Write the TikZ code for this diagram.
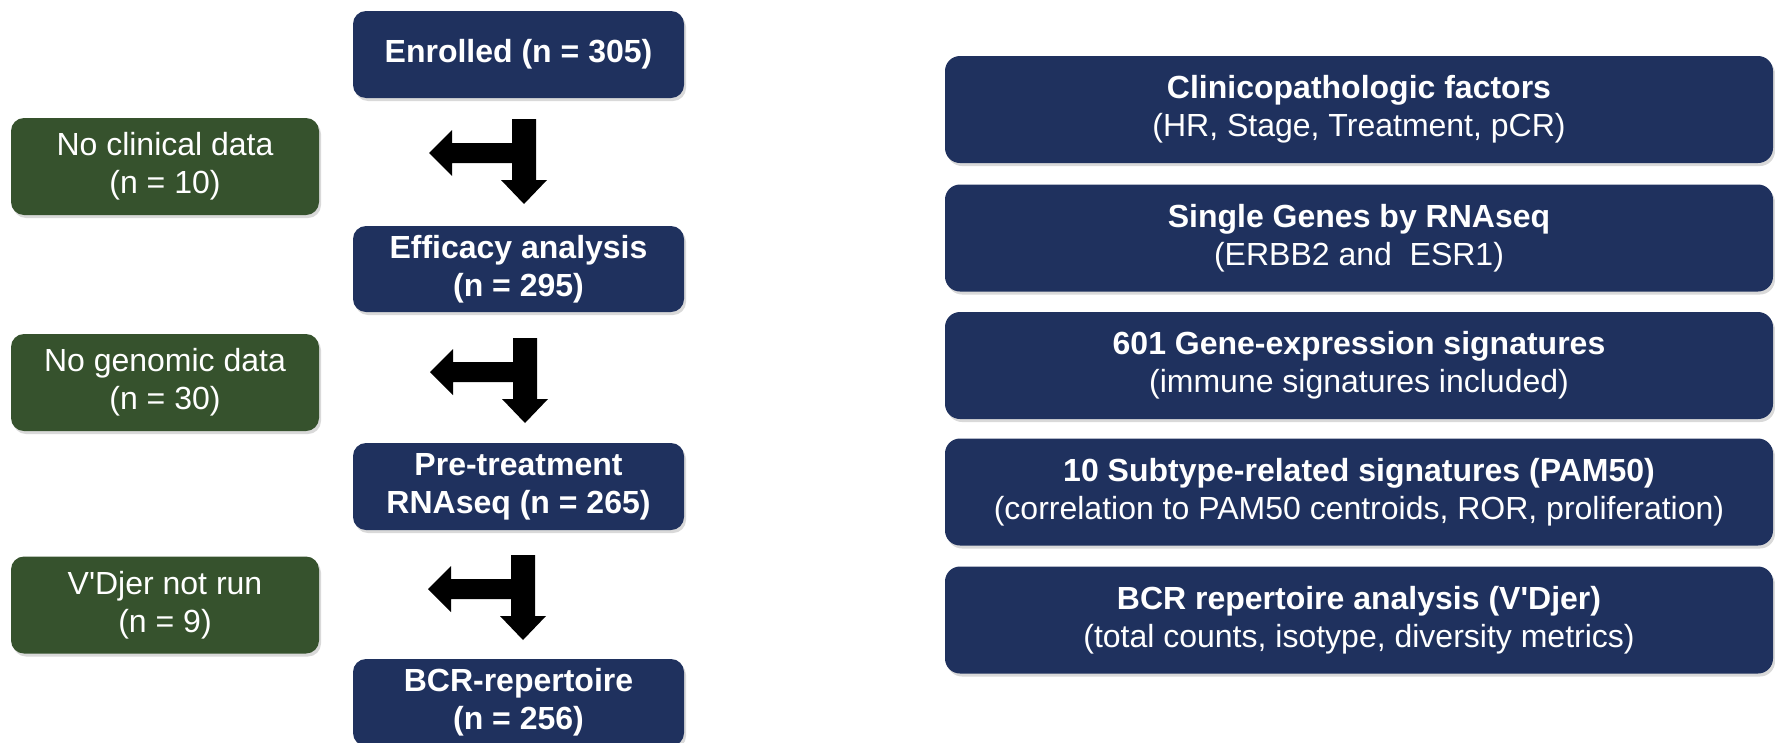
\documentclass[tikz,border=0pt]{standalone}
\usepackage{fontspec}
\setmainfont{Liberation Sans}
\usetikzlibrary{shadows}
\definecolor{navybox}{RGB}{31,49,94}
\definecolor{greenbox}{RGB}{54,82,45}

\begin{document}
\begin{tikzpicture}[x=1pt,y=-1pt,
  box/.style={rounded corners=13pt, text=white, align=center, inner sep=0pt,
    drop shadow={shadow xshift=2pt,shadow yshift=-3pt,opacity=0.3}},
  stage/.style={box, fill=navybox, minimum width=331pt, minimum height=87pt,
    font=\fontsize{32}{38}\selectfont\bfseries},
  excl/.style={box, fill=greenbox, minimum width=308pt, minimum height=97pt,
    font=\fontsize{32}{38}\selectfont},
  feature/.style={box, fill=navybox, rounded corners=15pt, minimum width=828pt,
    minimum height=107pt, font=\fontsize{32}{38}\selectfont},
  splitarrow/.pic={
    \fill[black] (0,0) -- (24,0) -- (24,61) -- (35,61) -- (12,85) -- (-11,61)
      -- (0,61) -- (0,44) -- (-60,44) -- (-60,57) -- (-83,34) -- (-60,11)
      -- (-60,24) -- (0,24) -- cycle;}
]
\useasboundingbox (0,0) rectangle (1775,742);
\clip (0,0) rectangle (1775,742);

% patient flow
\node[stage] (enrolled) at (518.5,54.5) {Enrolled (n = 305)};
\node[stage, minimum height=86pt] (efficacy) at (518.5,269) {Efficacy analysis\\(n = 295)};
\node[stage] (pretreat) at (518.5,486.5) {Pre-treatment\\RNAseq (n = 265)};
\node[stage] (bcrrep) at (518.5,702.5) {BCR-repertoire\\(n = 256)};

% exclusions
\node[excl] (noclin) at (165,166.5) {No clinical data\\(n = 10)};
\node[excl] (nogen) at (165,382.5) {No genomic data\\(n = 30)};
\node[excl] (novdj) at (165,605) {V\textquotesingle Djer not run\\(n = 9)};

% split arrows between stages
\pic at (512,119) {splitarrow};
\pic at (513,338) {splitarrow};
\pic at (511,555) {splitarrow};

% analysed features
\node[feature] (clin) at (1359,109.5)
  {\textbf{Clinicopathologic factors}\\(HR, Stage, Treatment, pCR)};
\node[feature] (genes) at (1359,238)
  {\textbf{Single Genes by RNAseq}\\(ERBB2 and~ ESR1)};
\node[feature] (sigs) at (1359,365.5)
  {\textbf{601 Gene-expression signatures}\\(immune signatures included)};
\node[feature] (pam) at (1359,492)
  {\textbf{10 Subtype-related signatures (PAM50)}\\(correlation to PAM50 centroids, ROR, proliferation)};
\node[feature] (bcrana) at (1359,620)
  {\textbf{BCR repertoire analysis (V\textquotesingle Djer)}\\(total counts, isotype, diversity metrics)};
\end{tikzpicture}
\end{document}
